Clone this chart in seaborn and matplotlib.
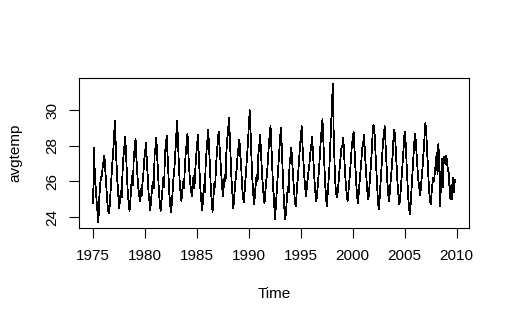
import seaborn as sns
import matplotlib.pyplot as plt
import numpy as np
import pandas as pd

# monthly average temperature, Jan 1975 - Nov 2009
temps_1975_1979 = [
    24.8, 27.9, 26.2, 25.6, 24.9, 24.3, 23.7, 25.0, 25.8, 26.2, 26.3, 26.8,
    27.1, 27.45, 26.7, 25.9, 25.1, 24.5, 24.2, 24.6, 25.4, 26.3, 26.9, 27.6,
    28.3, 29.4, 28.2, 27.0, 26.0, 25.3, 24.5, 25.0, 25.5, 25.1, 26.6, 27.4,
    27.9, 28.5, 27.6, 26.4, 25.4, 24.8, 24.35, 24.9, 25.7, 26.3, 25.8, 27.5,
    27.8, 28.4, 27.3, 26.5, 25.7, 25.3, 24.9, 25.6, 25.2, 25.9, 26.4, 27.2,
]
temps_1980_1984 = [
    27.6, 28.15, 27.2, 26.2, 25.4, 24.9, 24.4, 25.0, 25.6, 26.0, 25.6, 27.5,
    27.9, 28.45, 27.4, 26.5, 25.4, 24.8, 24.35, 24.9, 25.5, 26.2, 25.7, 27.6,
    28.0, 28.55, 27.5, 26.4, 25.3, 24.7, 24.25, 24.8, 25.6, 26.3, 26.8, 27.7,
    28.5, 29.4, 28.3, 27.0, 26.0, 25.4, 24.9, 25.5, 26.0, 25.6, 26.9, 27.6,
    28.1, 28.7, 27.6, 26.7, 26.0, 25.6, 25.2, 25.8, 26.3, 25.6, 26.6, 27.4,
]
temps_1985_1989 = [
    28.0, 28.6, 27.5, 26.5, 25.5, 24.9, 24.4, 25.0, 25.8, 25.4, 26.9, 27.7,
    28.3, 28.9, 27.9, 26.8, 25.6, 24.9, 24.3, 25.1, 25.9, 25.7, 26.9, 27.6,
    28.2, 28.8, 28.0, 27.1, 26.3, 25.7, 25.2, 25.8, 26.4, 26.0, 27.7, 28.4,
    28.9, 29.6, 28.4, 27.1, 26.0, 25.2, 24.5, 25.1, 25.8, 26.3, 26.8, 27.5,
    27.9, 28.35, 27.5, 27.0, 25.8, 25.2, 24.85, 25.4, 26.1, 26.8, 27.5, 28.3,
]
temps_1990_1994 = [
    29.1, 30.0, 28.6, 27.3, 26.1, 25.3, 24.7, 25.3, 25.9, 26.4, 26.0, 27.6,
    28.0, 28.6, 27.6, 26.6, 25.8, 25.2, 24.8, 25.4, 26.0, 26.5, 27.2, 28.0,
    28.6, 29.1, 28.0, 26.8, 25.6, 25.1, 23.9, 24.5, 25.3, 26.0, 26.8, 27.8,
    28.4, 29.0, 27.9, 26.6, 25.4, 24.5, 23.9, 24.4, 25.1, 25.7, 25.4, 27.0,
    27.4, 27.9, 27.1, 26.3, 25.6, 25.0, 24.6, 25.2, 25.9, 26.5, 27.2, 28.0,
]
temps_1995_1999 = [
    28.5, 29.1, 28.0, 27.1, 26.3, 25.7, 25.2, 25.7, 26.2, 26.6, 27.0, 27.6,
    28.0, 28.5, 27.6, 26.7, 25.9, 25.3, 24.9, 25.4, 26.0, 26.7, 27.4, 28.3,
    28.9, 29.5, 28.3, 27.1, 26.0, 25.2, 24.6, 25.3, 26.0, 26.8, 28.0, 29.3,
    30.5, 31.5, 28.6, 27.0, 25.8, 25.3, 25.1, 25.6, 26.2, 26.8, 27.4, 27.9,
    28.0, 28.45, 27.6, 26.6, 25.8, 25.3, 24.9, 25.4, 26.0, 26.6, 27.3, 28.1,
]
temps_2000_2004 = [
    28.3, 28.8, 27.8, 26.8, 25.9, 25.2, 24.8, 25.4, 26.0, 26.6, 27.2, 27.9,
    28.1, 28.6, 27.7, 26.8, 26.0, 25.4, 25.0, 25.5, 26.2, 26.9, 27.7, 28.7,
    29.2, 28.9, 27.9, 26.8, 25.8, 25.0, 24.45, 25.0, 25.8, 26.5, 27.3, 28.2,
    28.7, 29.1, 28.0, 27.0, 26.0, 25.3, 24.9, 25.5, 26.1, 26.7, 27.4, 28.3,
    28.9, 28.5, 27.6, 26.6, 25.7, 25.1, 24.7, 25.2, 25.9, 26.6, 27.3, 28.1,
]
temps_2005_2009 = [
    28.8, 28.3, 27.3, 26.3, 25.2, 24.6, 24.15, 24.8, 25.6, 26.4, 27.2, 28.1,
    28.65, 28.2, 27.4, 26.6, 26.0, 25.6, 25.25, 25.8, 26.4, 27.0, 27.8, 28.6,
    29.3, 28.7, 27.7, 26.6, 25.7, 25.1, 24.7, 25.3, 25.8, 26.2, 26.0, 26.6,
    27.0, 27.6, 26.4, 28.1, 27.0, 24.6, 25.9, 27.3, 25.7, 27.4, 27.2, 27.0,
    27.45, 27.1, 26.6, 26.5, 25.5, 25.0, 25.8, 25.0, 26.2, 25.4, 26.1,
]

avgtemp = (temps_1975_1979 + temps_1980_1984 + temps_1985_1989 + temps_1990_1994
           + temps_1995_1999 + temps_2000_2004 + temps_2005_2009)
start_year = 1975
x_ticks = [1975, 1980, 1985, 1990, 1995, 2000, 2005, 2010]
y_ticks = [24, 26, 28, 30]

df = pd.DataFrame({'Time': start_year + np.arange(len(avgtemp)) / 12,
                   'avgtemp': avgtemp})

sns.set_style('ticks')
plt.rcParams['font.family'] = ['Liberation Sans', 'DejaVu Sans']
plt.rcParams['text.color'] = 'black'
plt.rcParams['axes.labelcolor'] = 'black'

fig = plt.figure(figsize=(5.1, 3.26), dpi=100)
ax = fig.add_axes([0.1543, 0.3006, 0.7659, 0.4601])
sns.lineplot(data=df, x='Time', y='avgtemp', color='black', linewidth=0.55,
             estimator=None, antialiased=False, ax=ax)

# R style 4% padding
lo, hi = df['Time'].min(), df['Time'].max()
ax.set_xlim(lo - 0.04 * (hi - lo), hi + 0.04 * (hi - lo))
lo, hi = df['avgtemp'].min(), df['avgtemp'].max()
ax.set_ylim(lo - 0.04 * (hi - lo), hi + 0.04 * (hi - lo))

ax.set_xticks(x_ticks)
ax.set_yticks(y_ticks)
ax.tick_params(direction='out', length=7, width=0.8, colors='black', labelsize=11)
ax.tick_params(axis='x', pad=8)
ax.tick_params(axis='y', pad=7, labelrotation=90)
for lbl in ax.get_yticklabels():
    lbl.set_va('center')
for s in ax.spines.values():
    s.set_color('black')
    s.set_linewidth(0.8)

ax.set_xlabel('Time', fontsize=11, color='black')
ax.set_ylabel('avgtemp', fontsize=11, color='black')
ax.xaxis.set_label_coords(0.5, -0.393)
ax.yaxis.set_label_coords(-0.145, 0.5)

fig.savefig('out.png', dpi=100)
